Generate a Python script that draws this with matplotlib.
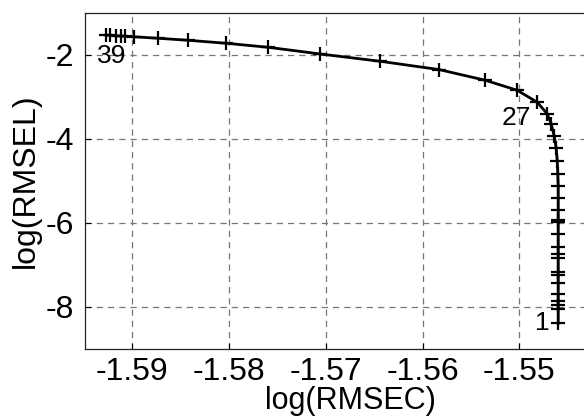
import matplotlib
matplotlib.use("Agg")
import matplotlib.pyplot as plt

# pontos (log RMSEC, log RMSEL), do ponto 1 (embaixo) ate o 39 (topo esquerdo)
log_rmsec = [-1.54597, -1.54597, -1.54597, -1.54597, -1.54597, -1.54597,
             -1.54597, -1.54597, -1.54597, -1.54597, -1.54597, -1.54597,
             -1.54597, -1.54597, -1.54597, -1.54597, -1.54597, -1.54602,
             -1.54607, -1.54618, -1.54638, -1.54669, -1.54711, -1.54814,
             -1.55021, -1.55351, -1.55827, -1.56437, -1.57057, -1.57594,
             -1.58028, -1.58421, -1.58731, -1.58979, -1.59072, -1.59114,
             -1.59165, -1.59227, -1.59269]
log_rmsel = [-8.388, -8.055, -7.948, -7.864, -7.698, -7.436,
             -7.245, -7.174, -6.824, -6.733, -6.567, -6.262,
             -5.983, -5.936, -5.698, -5.412, -5.126, -4.840,
             -4.531, -4.221, -3.936, -3.650, -3.400, -3.126,
             -2.840, -2.602, -2.348, -2.150, -1.976, -1.817,
             -1.721, -1.650, -1.602, -1.567, -1.555, -1.548,
             -1.543, -1.531, -1.526]

x_ticks = [-1.59, -1.58, -1.57, -1.56, -1.55]
y_ticks = [-8, -6, -4, -2]

# rotulos: (texto, indice do ponto, deslocamento em pixels)
rotulos = [("1", 0, (-16, 0)), ("27", 24, (-1, -28)), ("39", 38, (5, -21))]

plt.rcParams['font.family'] = ['Liberation Sans', 'DejaVu Sans']

fig = plt.figure(figsize=(5.84, 4.16), dpi=100)
ax = fig.add_axes([85 / 584, 67 / 416, 531 / 584, 336 / 416])

ax.plot(log_rmsec, log_rmsel, color='black', linewidth=2, marker='+',
        markersize=10, markeredgewidth=1.6, zorder=3)

for texto, i, desloc in rotulos:
    ax.annotate(texto, (log_rmsec[i], log_rmsel[i]), xytext=desloc,
                textcoords='offset pixels', ha='center', va='center',
                fontsize=19)

ax.set_xlim(-1.5949, -1.54)
ax.set_ylim(-9, -1)
ax.set_xticks(x_ticks)
ax.set_yticks(y_ticks)
ax.set_xticklabels([f"{v:.2f}" for v in x_ticks])
ax.set_yticklabels([str(v) for v in y_ticks])

ax.grid(True, color='#777777', linestyle=(0, (5, 4)), linewidth=0.9)
ax.set_axisbelow(True)
ax.tick_params(direction='in', length=4, width=0.8, labelsize=23)
ax.tick_params(axis='x', pad=6)
ax.tick_params(axis='y', pad=8)
for s in ax.spines.values():
    s.set_linewidth(0.9)
    s.set_color('#222222')

ax.set_xlabel('log(RMSEC)', fontsize=22, labelpad=-1)
ax.set_ylabel('log(RMSEL)', fontsize=23, labelpad=3)

fig.savefig('out.png', dpi=100)
